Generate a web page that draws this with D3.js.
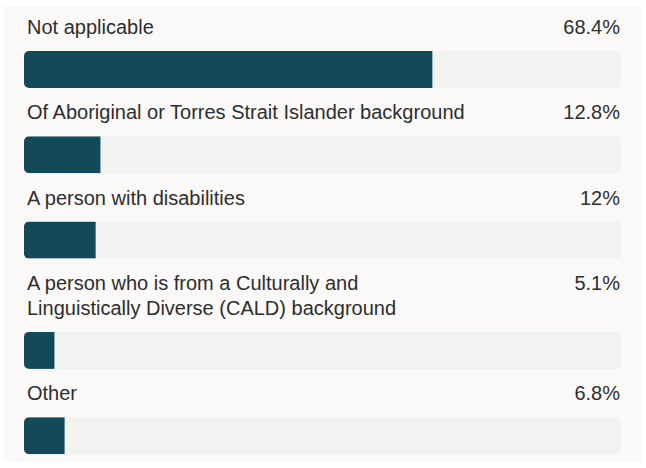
<!DOCTYPE html>
<html>
<head>
<meta charset="utf-8">
<script src="https://cdn.jsdelivr.net/npm/d3@7"></script>
<style>
  body { margin: 0; background: #ffffff; }
  svg text { font-family: "Liberation Sans", Arial, sans-serif; }
</style>
</head>
<body>
<svg id="chart" width="646" height="468"></svg>
<script>
// Categories (each entry is one or more label lines) and their shares in percent
const categories = [
    ["Not applicable"],
    ["Of Aboriginal or Torres Strait Islander background"],
    ["A person with disabilities"],
    ["A person who is from a Culturally and", "Linguistically Diverse (CALD) background"],
    ["Other"]
];
const values = [68.4, 12.8, 12, 5.1, 6.8];
const valueLabels = ["68.4%", "12.8%", "12%", "5.1%", "6.8%"];

let svg = d3.select("#chart");

// light panel behind everything
svg.append("rect")
    .attr("x", 4).attr("y", 6)
    .attr("width", 638).attr("height", 456)
    .attr("fill", "#faf9f7");

// bars run over the full 0-100% range
let x = d3.scaleLinear().domain([0, 100]).range([24, 621]);

let barH = 37, lineH = 25;

// work out vertical positions, taller rows for two-line labels
let rows = [];
let y = 34;
categories.forEach(function(lines, i) {
    let barTop = y + (lines.length - 1) * lineH + 17;
    rows.push({ lines: lines, value: values[i], label: valueLabels[i], baseline: y, barTop: barTop, i: i });
    y = barTop + 68.3;
});

let defs = svg.append("defs");
defs.selectAll("clipPath")
    .data(rows)
    .enter().append("clipPath")
    .attr("id", d => "clip" + d.i)
    .append("rect")
    .attr("x", x(0)).attr("y", d => d.barTop)
    .attr("width", x(100) - x(0)).attr("height", barH)
    .attr("rx", 5);

let g = svg.selectAll("g.row")
    .data(rows)
    .enter().append("g")
    .attr("class", "row");

// category label
g.append("text")
    .attr("x", 27)
    .attr("y", d => d.baseline)
    .attr("font-size", 20)
    .attr("fill", "#2e2e2e")
    .selectAll("tspan")
    .data(d => d.lines)
    .enter().append("tspan")
    .attr("x", 27)
    .attr("dy", (d, j) => j === 0 ? 0 : lineH)
    .text(d => d);

// percentage on the right
g.append("text")
    .attr("x", 620)
    .attr("y", d => d.baseline)
    .attr("text-anchor", "end")
    .attr("font-size", 20)
    .attr("fill", "#2e2e2e")
    .text(d => d.label);

// grey track
g.append("rect")
    .attr("x", x(0)).attr("y", d => d.barTop)
    .attr("width", x(100) - x(0)).attr("height", barH)
    .attr("rx", 5)
    .attr("fill", "#f2f2f1");

// filled part
g.append("rect")
    .attr("clip-path", d => "url(#clip" + d.i + ")")
    .attr("x", x(0)).attr("y", d => d.barTop)
    .attr("width", d => x(d.value) - x(0)).attr("height", barH)
    .attr("fill", "#124a5a");
</script>
</body>
</html>
